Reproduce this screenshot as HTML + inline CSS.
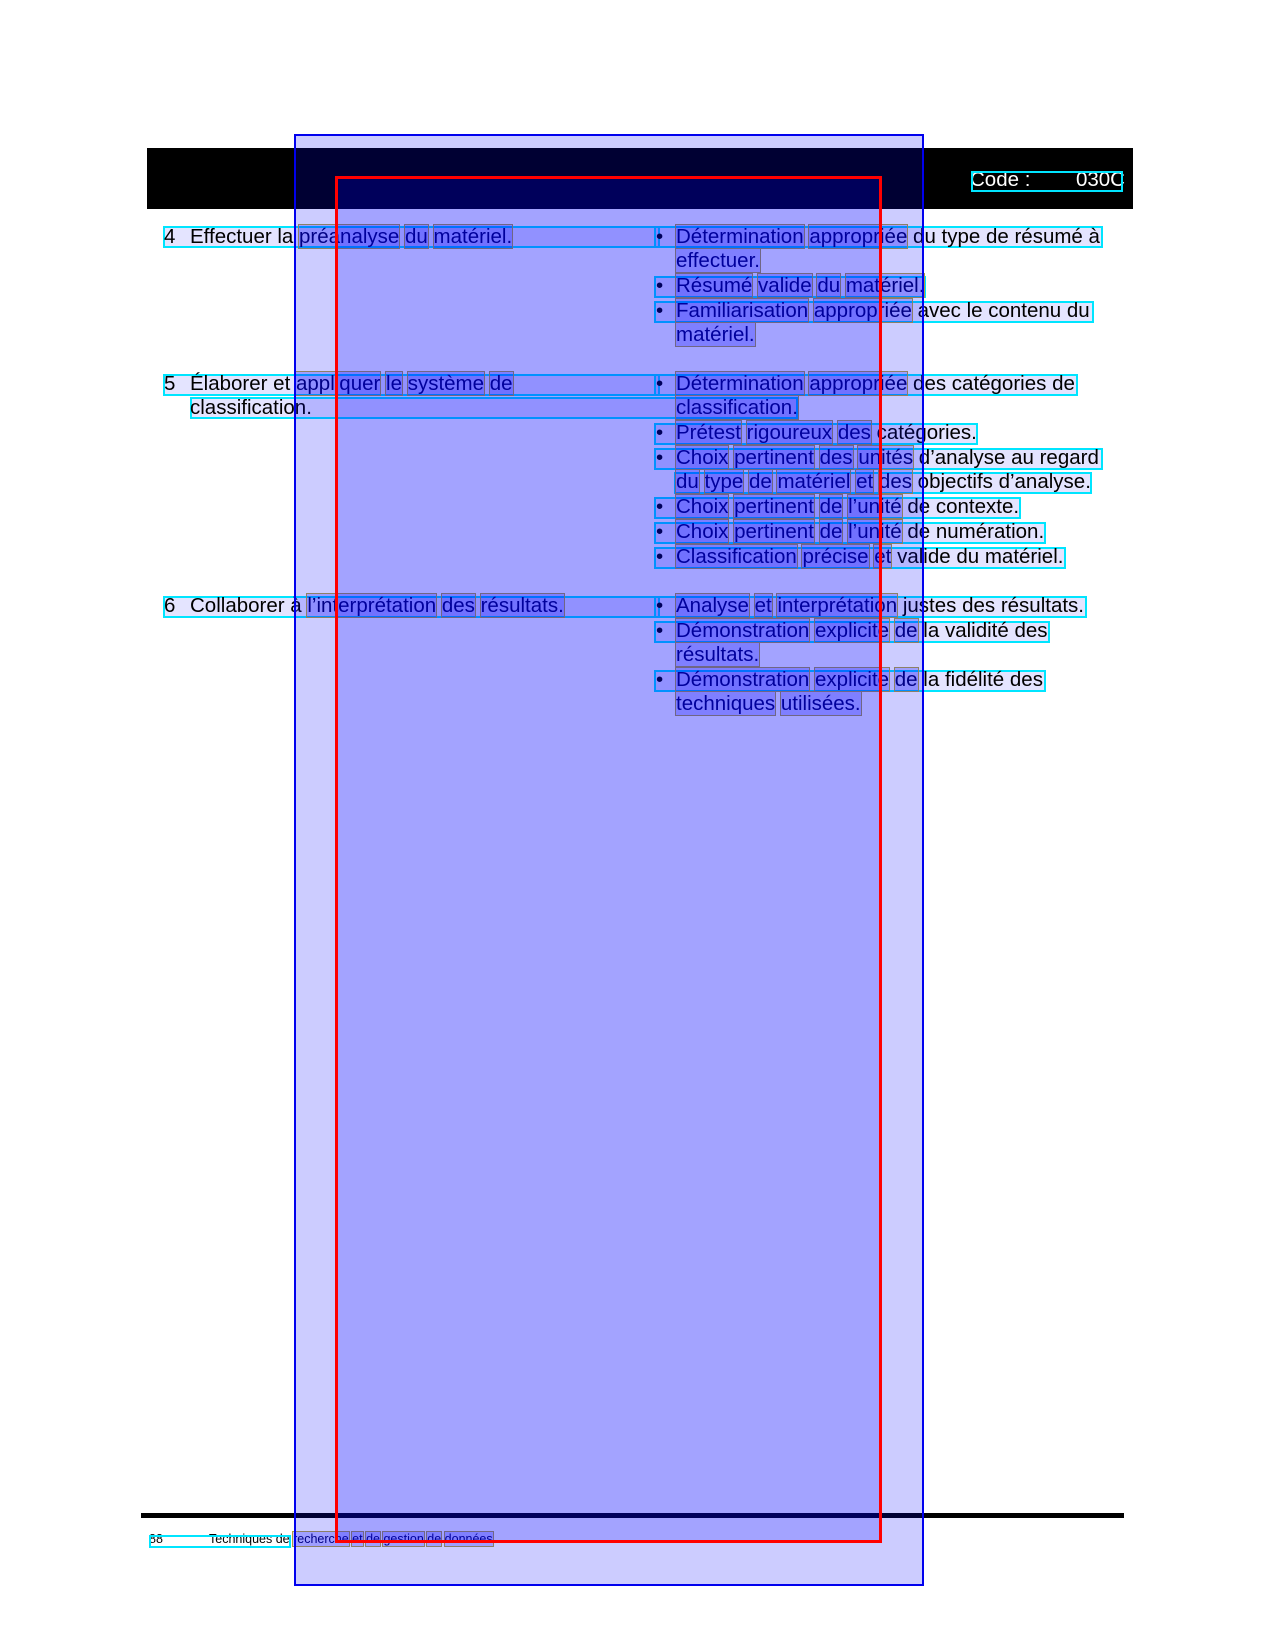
<!DOCTYPE html>
<html><head><meta charset="utf-8"><style>
body{margin:0;width:1275px;height:1651px;position:relative;background:#fff;overflow:hidden;font-family:"Liberation Sans",sans-serif;}
.a{position:absolute;}
.t{position:absolute;font-size:20.5px;line-height:20px;color:#000;white-space:nowrap;}
.c{border:2px solid #00e5ff;background:rgba(120,120,255,0.2);box-sizing:border-box;height:22px;}
.w{background:rgba(0,0,255,0.22);outline:1px solid #b0a040;color:#000066;}
</style></head><body>
<div class="a" style="left:147px;top:148px;width:986px;height:61px;background:#000;"></div>
<div class="t" style="left:970px;top:170px;color:#fff;">Code :&nbsp;&nbsp;&nbsp;&nbsp;&nbsp;&nbsp;&nbsp;&nbsp;030C</div>
<div class="a" style="left:971px;top:171px;width:152px;height:21px;border:2px solid #00e5ff;box-sizing:border-box;"></div>

<!-- row 4 -->
<div class="a c" style="left:163px;top:226px;width:497px;"></div>
<div class="t" style="left:164px;top:227px;">4</div>
<div class="t" style="left:190px;top:227px;">Effectuer la <span class="w">préanalyse</span> <span class="w">du</span> <span class="w">matériel.</span></div>
<div class="a c" style="left:654px;top:226px;width:449px;"></div>
<div class="t" style="left:656px;top:227px;">•</div>
<div class="t" style="left:676px;top:227px;"><span class="w">Détermination</span> <span class="w">appropriée</span> du type de résumé à</div>
<div class="t" style="left:676px;top:251px;"><span class="w">effectuer.</span></div>
<div class="a c" style="left:654px;top:276px;width:272px;"></div>
<div class="t" style="left:656px;top:276px;">•</div>
<div class="t" style="left:676px;top:276px;"><span class="w">Résumé</span> <span class="w">valide</span> <span class="w">du</span> <span class="w">matériel.</span></div>
<div class="a c" style="left:654px;top:301px;width:440px;"></div>
<div class="t" style="left:656px;top:301px;">•</div>
<div class="t" style="left:676px;top:301px;"><span class="w">Familiarisation</span> <span class="w">appropriée</span> avec le contenu du</div>
<div class="t" style="left:676px;top:325px;"><span class="w">matériel.</span></div>

<!-- row 5 -->
<div class="a c" style="left:163px;top:374px;width:497px;"></div>
<div class="t" style="left:164px;top:374px;">5</div>
<div class="t" style="left:190px;top:374px;">Élaborer et <span class="w">appliquer</span> <span class="w">le</span> <span class="w">système</span> <span class="w">de</span></div>
<div class="a c" style="left:190px;top:397px;width:608px;"></div>
<div class="t" style="left:190px;top:398px;">classification.</div>
<div class="a c" style="left:654px;top:374px;width:424px;"></div>
<div class="t" style="left:656px;top:374px;">•</div>
<div class="t" style="left:676px;top:374px;"><span class="w">Détermination</span> <span class="w">appropriée</span> des catégories de</div>
<div class="t" style="left:676px;top:398px;"><span class="w">classification.</span></div>
<div class="a c" style="left:654px;top:423px;width:324px;"></div>
<div class="t" style="left:656px;top:423px;">•</div>
<div class="t" style="left:676px;top:423px;"><span class="w">Prétest</span> <span class="w">rigoureux</span> <span class="w">des</span> catégories.</div>
<div class="a c" style="left:654px;top:448px;width:449px;"></div>
<div class="t" style="left:656px;top:448px;">•</div>
<div class="t" style="left:676px;top:448px;"><span class="w">Choix</span> <span class="w">pertinent</span> <span class="w">des</span> <span class="w">unités</span> d’analyse au regard</div>
<div class="a c" style="left:674px;top:472px;width:418px;"></div>
<div class="t" style="left:676px;top:472px;"><span class="w">du</span> <span class="w">type</span> <span class="w">de</span> <span class="w">matériel</span> <span class="w">et</span> <span class="w">des</span> objectifs d’analyse.</div>
<div class="a c" style="left:654px;top:497px;width:367px;"></div>
<div class="t" style="left:656px;top:497px;">•</div>
<div class="t" style="left:676px;top:497px;"><span class="w">Choix</span> <span class="w">pertinent</span> <span class="w">de</span> <span class="w">l’unité</span> de contexte.</div>
<div class="a c" style="left:654px;top:522px;width:392px;"></div>
<div class="t" style="left:656px;top:522px;">•</div>
<div class="t" style="left:676px;top:522px;"><span class="w">Choix</span> <span class="w">pertinent</span> <span class="w">de</span> <span class="w">l’unité</span> de numération.</div>
<div class="a c" style="left:654px;top:547px;width:412px;"></div>
<div class="t" style="left:656px;top:547px;">•</div>
<div class="t" style="left:676px;top:547px;"><span class="w">Classification</span> <span class="w">précise</span> <span class="w">et</span> valide du matériel.</div>

<!-- row 6 -->
<div class="a c" style="left:163px;top:596px;width:497px;"></div>
<div class="t" style="left:164px;top:596px;">6</div>
<div class="t" style="left:190px;top:596px;">Collaborer à <span class="w">l’interprétation</span> <span class="w">des</span> <span class="w">résultats.</span></div>
<div class="a c" style="left:654px;top:596px;width:433px;"></div>
<div class="t" style="left:656px;top:596px;">•</div>
<div class="t" style="left:676px;top:596px;"><span class="w">Analyse</span> <span class="w">et</span> <span class="w">interprétation</span> justes des résultats.</div>
<div class="a c" style="left:654px;top:621px;width:396px;"></div>
<div class="t" style="left:656px;top:621px;">•</div>
<div class="t" style="left:676px;top:621px;"><span class="w">Démonstration</span> <span class="w">explicite</span> <span class="w">de</span> la validité des</div>
<div class="t" style="left:676px;top:645px;"><span class="w">résultats.</span></div>
<div class="a c" style="left:654px;top:670px;width:392px;"></div>
<div class="t" style="left:656px;top:670px;">•</div>
<div class="t" style="left:676px;top:670px;"><span class="w">Démonstration</span> <span class="w">explicite</span> <span class="w">de</span> la fidélité des</div>
<div class="t" style="left:676px;top:694px;"><span class="w">techniques</span> <span class="w">utilisées.</span></div>

<!-- footer -->
<div class="a" style="left:141px;top:1513px;width:983px;height:5px;background:#000;"></div>
<div class="a" style="left:149px;top:1532px;font-size:12.5px;">88</div>
<div class="a" style="left:209px;top:1532px;font-size:12.5px;">Techniques de <span class="w">recherche</span> <span class="w">et</span> <span class="w">de</span> <span class="w">gestion</span> <span class="w">de</span> <span class="w">données</span></div>
<div class="a" style="left:149px;top:1535px;width:142px;height:13px;border:2px solid #00e5ff;box-sizing:border-box;"></div>

<!-- overlay rectangles -->
<div class="a" style="left:294px;top:134px;width:630px;height:1452px;background:rgba(0,0,255,0.2);border:2px solid #0000ee;box-sizing:border-box;"></div>
<div class="a" style="left:335px;top:176px;width:547px;height:1367px;background:rgba(0,0,255,0.2);border:3px solid #ff0000;box-sizing:border-box;"></div>
</body></html>
